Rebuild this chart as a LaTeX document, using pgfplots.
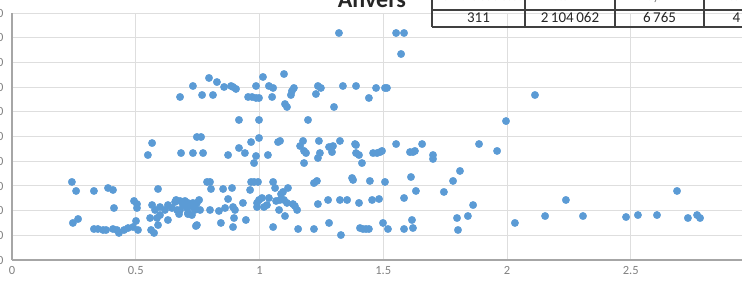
\documentclass[border=0pt]{standalone}
\usepackage{pgfplots}
\pgfplotsset{compat=1.18}
\usepackage{fontspec}
\setmainfont{Carlito}
\definecolor{ptblue}{HTML}{5B9BD5}
\definecolor{gridgray}{HTML}{DEDEDE}
\definecolor{axgray}{HTML}{A6A6A6}
\definecolor{lblgray}{HTML}{808080}
\definecolor{titlegray}{HTML}{262626}
\definecolor{tabline}{HTML}{404040}
\begin{document}
\begin{tikzpicture}[x=1pt,y=1pt]
\useasboundingbox (0,0) rectangle (742,281);
\begin{axis}[
  at={(12pt,21pt)}, anchor=south west,
  scale only axis, width=742.5pt, height=247pt,
  xmin=0, xmax=3, ymin=0, ymax=20000,
  axis x line*=bottom, axis y line*=left,
  xtick distance=0.5, ytick distance=2000,
  grid=major, major grid style={gridgray, line width=0.8pt},
  axis line style={axgray, line width=1.3pt},
  major tick length=0pt, tick style={draw=none},
  scaled y ticks=false,
  /pgf/number format/.cd, use period, assume math mode=true, 1000 sep={\,},
  /pgfplots/.cd,
  ticklabel style={font=\fontsize{12.5}{14}\selectfont, text=lblgray},
  xticklabel style={yshift=-3pt},
  yticklabel style={xshift=-5pt},
]
\addplot[only marks, mark=*, mark size=3.7pt, mark options={fill=ptblue, draw=ptblue}] table[row sep=\\] {
x y\\
0.242 6320\\ 0.259 5590\\ 0.331 5590\\ 0.388 5830\\ 0.408 5670\\
0.246 3000\\ 0.267 3320\\ 0.331 2510\\ 0.347 2510\\ 0.368 2430\\
0.380 2430\\ 0.408 2510\\ 0.424 2430\\ 0.432 2190\\ 0.453 2430\\
0.469 2590\\ 0.489 2670\\ 0.501 3160\\ 0.509 2430\\ 0.412 4210\\
0.493 4780\\ 0.505 4530\\ 0.505 4210\\ 0.562 2430\\ 0.574 2190\\
0.590 2830\\ 0.558 3400\\ 0.549 8500\\ 0.566 9470\\ 0.590 5750\\
0.566 4450\\ 0.578 4050\\ 0.598 4290\\ 0.618 4050\\ 0.630 4450\\
0.646 4210\\ 0.659 4700\\ 0.679 4780\\ 0.699 4780\\ 0.711 4620\\
0.667 4050\\ 0.675 3720\\ 0.630 3240\\ 0.747 4620\\ 0.739 4050\\
0.727 3640\\ 0.711 3720\\ 0.598 3640\\ 0.586 3400\\ 0.747 2830\\
0.663 4860\\ 0.756 4860\\ 0.679 4050\\ 0.711 3810\\ 0.691 4450\\
0.707 4210\\ 0.731 4290\\ 0.743 4130\\ 0.760 4050\\ 0.731 4620\\
0.743 2750\\ 0.800 4050\\ 0.836 3970\\ 0.861 4210\\ 0.893 4290\\
0.901 4050\\ 0.873 4940\\ 0.933 4620\\ 0.844 3000\\ 0.897 3400\\
0.893 2670\\ 0.945 3240\\ 0.788 6320\\ 0.800 6320\\ 0.804 5750\\
0.853 5750\\ 0.889 5830\\ 0.683 8660\\ 0.731 8660\\ 0.772 8660\\
0.747 9960\\ 0.764 9960\\ 0.873 8500\\ 0.917 9070\\ 0.941 8660\\
0.966 9550\\ 0.986 8420\\ 0.978 7850\\ 1.034 8500\\ 1.075 9550\\
1.083 9640\\ 1.164 9230\\ 1.180 8830\\ 1.188 8660\\ 1.180 7850\\
1.236 8260\\ 1.244 8660\\ 1.281 9150\\ 1.293 8740\\ 1.297 9230\\
1.390 9310\\ 1.390 8660\\ 1.402 8500\\ 1.414 7850\\ 1.459 8660\\
0.998 9880\\ 1.176 9640\\ 1.240 9640\\ 1.325 9640\\ 1.386 9390\\
0.679 13200\\ 0.731 14090\\ 0.768 13360\\ 0.796 14740\\ 0.812 13360\\
0.828 14410\\ 0.857 14010\\ 0.885 14090\\ 0.893 14010\\ 0.905 13850\\
0.917 11340\\ 0.954 13200\\ 0.970 13200\\ 0.986 13120\\ 0.998 13120\\
1.014 14820\\ 0.986 14090\\ 1.038 14090\\ 1.055 13930\\ 1.051 13200\\
1.099 15060\\ 1.139 13930\\ 1.131 13680\\ 1.127 13360\\ 1.103 12630\\
1.111 12390\\ 1.236 14090\\ 1.248 13930\\ 1.228 13440\\ 1.337 14090\\
1.390 14090\\ 1.471 13930\\ 1.507 13930\\ 1.515 13930\\ 1.442 13120\\
1.301 12390\\ 0.998 11340\\ 1.196 11340\\ 1.321 18380\\ 1.552 18380\\
1.584 18380\\ 1.572 16680\\
1.996 11250\\ 1.552 9390\\ 1.657 9390\\ 1.887 9390\\ 1.960 8830\\
1.475 8660\\ 1.487 8740\\ 1.495 8830\\ 1.608 8740\\ 1.620 8740\\
1.628 8830\\ 1.701 8500\\ 1.701 8180\\ 1.810 7210\\ 1.446 6400\\
1.507 6320\\ 1.612 6720\\ 1.782 6400\\ 1.632 5590\\ 1.745 5510\\
1.455 4860\\ 1.483 4940\\ 1.584 5020\\ 1.863 4450\\ 1.842 3560\\
1.798 3400\\ 1.616 3240\\ 1.499 3000\\ 1.519 2510\\ 1.406 2590\\
1.418 2510\\ 1.430 2510\\ 1.442 2510\\ 1.584 2510\\ 1.620 2590\\
1.802 2430\\
0.966 6320\\ 0.978 6320\\ 0.994 6320\\ 0.962 5670\\ 1.055 6320\\
1.063 5830\\ 1.095 5510\\ 1.115 5830\\ 1.087 5340\\ 1.220 6230\\
1.232 6400\\ 1.374 6640\\ 1.378 6480\\ 0.990 4620\\ 0.998 4860\\
1.010 5020\\ 0.990 4290\\ 1.018 4290\\ 1.030 4450\\ 1.038 5020\\
1.067 4780\\ 1.083 4860\\ 1.079 4050\\ 1.099 4860\\ 1.111 4620\\
1.135 4530\\ 1.143 4370\\ 1.152 4050\\ 1.103 3560\\ 1.236 4530\\
1.277 4860\\ 1.325 4860\\ 1.354 4860\\ 1.402 4620\\ 1.055 2670\\
1.156 2510\\ 1.220 2510\\ 1.281 3000\\ 1.329 2020\\
2.113 13360\\ 2.687 5590\\ 2.238 4860\\ 2.154 3560\\ 2.307 3560\\
2.032 3000\\ 2.481 3480\\ 2.529 3640\\ 2.606 3640\\ 2.731 3400\\
2.768 3640\\ 2.780 3400\\
};
\end{axis}
% title
\node[font=\fontsize{24}{28}\selectfont\bfseries, text=titlegray, anchor=base] at (372,273) {Anvers};
% table
\draw[tabline, line width=1.2pt] (432,254) -- (800,254);
\draw[tabline, line width=1.2pt] (432,271) -- (800,271);
\foreach \xx in {432,525,615,704} {\draw[tabline, line width=1.2pt] (\xx,254) -- (\xx,300);}
\begin{scope}[every node/.style={font=\fontsize{15}{17}\selectfont, text=titlegray, anchor=base}]
\node at (478.5,258) {311};
\node at (570,258) {2\,104\,062};
\node at (659.5,258) {6\,765};
\node at (749,258) {4\,718};
\end{scope}
\begin{scope}[every node/.style={font=\fontsize{13}{15}\selectfont, text=lblgray, anchor=base}]
\node at (478.5,280.3) {Nombre sociétés};
\node at (570,280.3) {Total EFF};
\node at (659.5,280.3) {Moy. EFF};
\node at (749,280.3) {Ecart type};
\end{scope}
\end{tikzpicture}
\end{document}
